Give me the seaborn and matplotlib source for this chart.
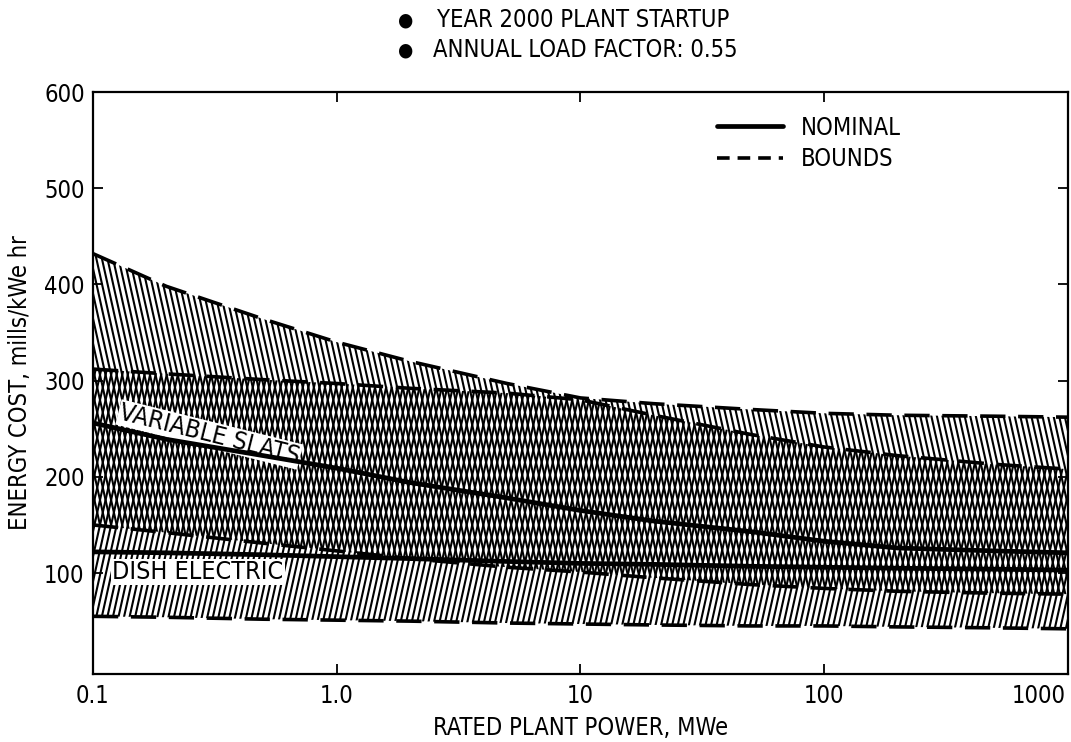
import numpy as np
import pandas as pd
import matplotlib
matplotlib.use("Agg")
import matplotlib.pyplot as plt
import matplotlib.hatch as mhatch
import matplotlib.transforms as mtransforms
from matplotlib.path import Path
from matplotlib.lines import Line2D
import seaborn as sns

# ---------------- data ----------------
power = [0.1, 0.2, 0.5, 1, 2, 5, 10, 20, 50, 100, 200, 500, 1000]

slats_nominal = [256, 239, 222, 209, 194, 178, 165, 154, 143, 133, 126, 123, 121]
slats_upper   = [432, 398, 364, 340, 320, 297, 282, 276, 270, 266, 264, 263, 262]
slats_lower   = [150, 142, 131, 123, 115, 106, 101, 95, 88, 84, 81, 79, 78]

dish_nominal = [122, 121, 119, 117, 115, 112, 110, 109, 107, 106, 105, 104, 103]
dish_upper   = [312, 307, 301, 297, 292, 287, 280, 264, 244, 231, 222, 213, 208]
dish_lower   = [55, 54, 52, 51, 50, 48, 47, 46, 45, 45, 44, 43, 42]

x_ticks = [0.1, 1, 10, 100, 1000]
x_tick_labels = ["0.1", "1.0", "10", "100", "1000"]
y_ticks = [100, 200, 300, 400, 500, 600]

title_lines = ["YEAR 2000 PLANT STARTUP", "ANNUAL LOAD FACTOR: 0.55"]


# ---------------- steep hatch patterns (like the original drawing) ----------------
class _SteepHatch(mhatch.HatchPatternBase):
    char = "/"
    rising = True

    def __init__(self, hatch, density):
        self.n = int(hatch.count(self.char) * density)
        if self.n:
            self.m = max(1, int(round(self.n * 0.25)))
            self.num_lines = self.n + self.m + 1
        else:
            self.m = 0
            self.num_lines = 0
        self.num_vertices = self.num_lines * 2

    def set_vertices_and_codes(self, vertices, codes):
        offs = np.arange(-self.m, self.n + 1) / self.n
        s = self.m / self.n
        y0, y1 = (0.0, 1.0) if self.rising else (1.0, 0.0)
        vertices[0::2, 0] = offs
        vertices[0::2, 1] = y0
        vertices[1::2, 0] = offs + s
        vertices[1::2, 1] = y1
        codes[0::2] = Path.MOVETO
        codes[1::2] = Path.LINETO


class SteepNE(_SteepHatch):
    char = "/"
    rising = True


class SteepSE(_SteepHatch):
    char = "\\"
    rising = False


mhatch._hatch_types = [
    SteepNE if t is mhatch.NorthEastHatch else SteepSE if t is mhatch.SouthEastHatch else t
    for t in mhatch._hatch_types
]

# ---------------- style ----------------
sns.set_style("ticks")
plt.rcParams["font.family"] = ["DejaVu Sans"]
plt.rcParams["font.stretch"] = "condensed"
for k in ["text.color", "axes.labelcolor", "xtick.color", "ytick.color", "axes.edgecolor"]:
    plt.rcParams[k] = "black"
plt.rcParams["hatch.linewidth"] = 1.5
plt.rcParams["hatch.color"] = "black"
FS = 17

fig = plt.figure(figsize=(10.71, 7.42), dpi=100)
ax = fig.add_axes([0.0868, 0.0916, 0.9104, 0.7844])

# bands
ax.fill_between(power, slats_lower, slats_upper, facecolor="none",
                edgecolor="black", hatch="\\\\\\", linewidth=0, zorder=1)
ax.fill_between(power, dish_lower, dish_upper, facecolor="none",
                edgecolor="black", hatch="///", linewidth=0, zorder=1)

dash = (0, (7, 3.5))
for lo, hi, nom in [(slats_lower, slats_upper, slats_nominal),
                    (dish_lower, dish_upper, dish_nominal)]:
    sns.lineplot(x=power, y=nom, color="black", linewidth=3.4, ax=ax, zorder=5)
    sns.lineplot(x=power, y=hi, color="black", linewidth=2.6, linestyle=dash, ax=ax, zorder=5)
    sns.lineplot(x=power, y=lo, color="black", linewidth=2.6, linestyle=dash, ax=ax, zorder=5)

# labels on curves
ax.text(0.30, 244, "VARIABLE SLATS", rotation=-14, ha="center", va="center",
        fontsize=18, zorder=4, rotation_mode="anchor",
        bbox=dict(facecolor="white", edgecolor="none", pad=0.8))
ax.text(0.27, 101, "DISH ELECTRIC", ha="center", va="center",
        fontsize=18, zorder=4,
        bbox=dict(facecolor="white", edgecolor="none", pad=0.8))

# axes
ax.set_xscale("log")
ax.set_xlim(0.1, 1000)
ax.set_ylim(-5, 600)
ax.set_xticks(x_ticks)
ax.set_xticklabels(x_tick_labels)
ax.minorticks_off()
ax.set_yticks(y_ticks)
ax.tick_params(axis="both", which="major", direction="in", length=7, width=1.3,
               labelsize=FS, top=True, right=True)
ax.tick_params(axis="x", pad=7)
ax.tick_params(axis="y", pad=6)
last = ax.get_xticklabels()[-1]
last.set_horizontalalignment("right")
last.set_transform(last.get_transform() +
                   mtransforms.ScaledTranslation(-2 / 72, 0, fig.dpi_scale_trans))
for sp in ax.spines.values():
    sp.set_linewidth(1.6)
    sp.set_color("black")
ax.set_xlabel("RATED PLANT POWER, MWe", fontsize=FS, labelpad=6)
ax.set_ylabel("ENERGY COST, mills/kWe hr", fontsize=FS, labelpad=9)

# legend
handles = [Line2D([], [], color="black", linewidth=3.4),
           Line2D([], [], color="black", linewidth=2.6, linestyle=(0, (3.5, 2.2)))]
ax.legend(handles, ["NOMINAL", "BOUNDS"], loc="center left",
          bbox_to_anchor=(0.618, 0.912), frameon=False, fontsize=FS,
          handlelength=2.8, handletextpad=0.75, labelspacing=0.3)

# title block
for i, line in enumerate(title_lines):
    yy = 1 - (20 + 30 * i) / 742
    fig.text(405 / 1071, yy, "\u25cf", ha="center", va="center", fontsize=FS - 3)
    fig.text((437 - 4 * i) / 1071, yy, line, ha="left", va="center", fontsize=FS)

fig.savefig("out.png", dpi=100, facecolor="white")
